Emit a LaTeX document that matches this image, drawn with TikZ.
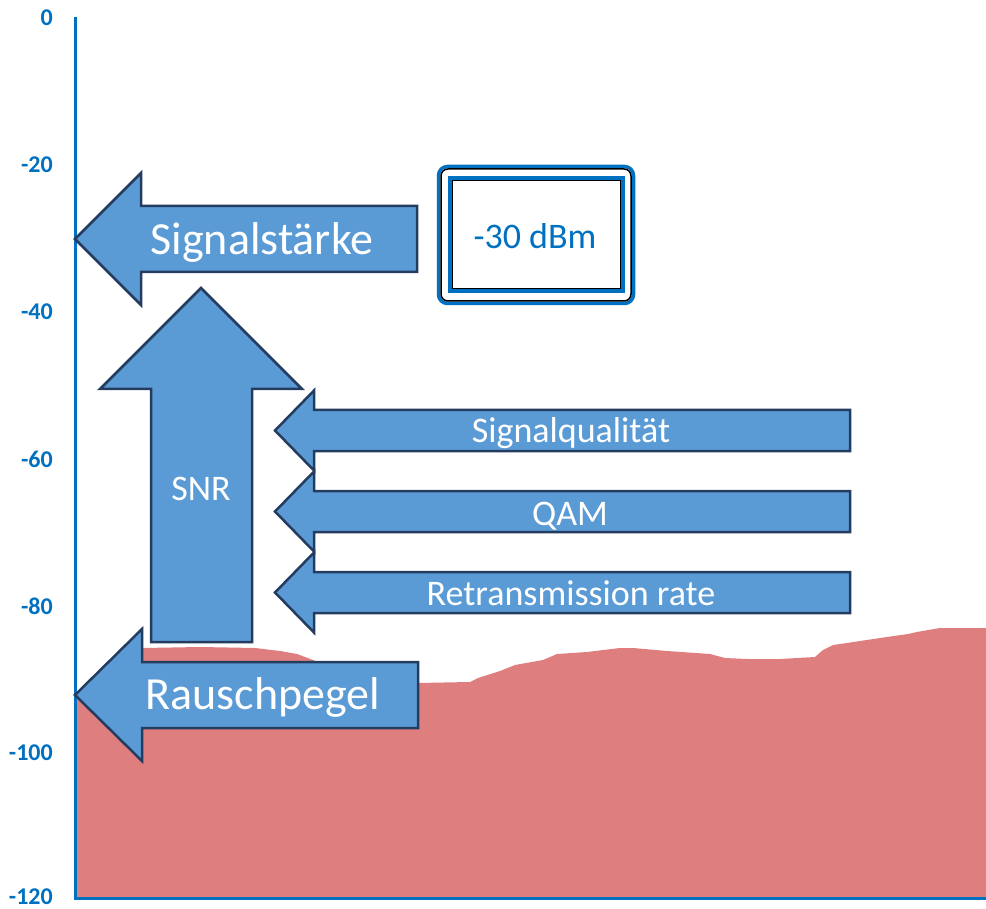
\documentclass[tikz,border=0pt]{standalone}
\usepackage{fontspec}
\setmainfont{Carlito}
\definecolor{axisblue}{RGB}{0,112,192}
\definecolor{arrfill}{RGB}{91,155,213}
\definecolor{arredge}{RGB}{36,60,96}
\definecolor{noise}{RGB}{222,126,126}
\tikzset{
 arrowshape/.style={fill=arrfill, draw=arredge, line width=2.5pt, line join=miter},
 biglbl/.style={text=white, font=\fontsize{46}{50}\selectfont, inner sep=0pt, text height=29pt, text depth=0pt},
 smalllbl/.style={text=white, font=\fontsize{36}{40}\selectfont, inner sep=0pt, text height=22.7pt, text depth=0pt},
 dbmlbl/.style={text=axisblue, font=\fontsize{36}{40}\selectfont, inner sep=0pt, text height=22.7pt, text depth=0pt},
 ticklbl/.style={text=axisblue, font=\bfseries\fontsize{24}{26}\selectfont, anchor=east, inner sep=0pt},
 axisline/.style={draw=axisblue, line width=3pt},
}
\begin{document}
\begin{tikzpicture}[x=1pt,y=-1pt]
\useasboundingbox (0,0) rectangle (986,909);
% noise floor
\fill[noise] (75,898) -- (75,700) -- (110,668) -- (130,652) -- (143,648) -- (200,647) -- (255,648)
 -- (280,651) -- (297,654) -- (313,660) -- (340,672) -- (418,683) -- (470,682) -- (478,678)
 -- (500,671) -- (515,665) -- (543,660) -- (557,654) -- (587,652) -- (620,648) -- (633,648)
 -- (667,651) -- (710,654) -- (725,658) -- (747,659) -- (780,659) -- (815,657) -- (823,650)
 -- (833,645) -- (847,643) -- (860,641) -- (887,637) -- (908,634) -- (917,632) -- (928,630)
 -- (940,628) -- (986,628) -- (986,898) -- cycle;
% axes
\coordinate (atop) at (75,17);
\coordinate (aorig) at (75,898);
\coordinate (aright) at (986,898);
\draw[axisline, line cap=butt] (atop) -- (aorig) -- (aright);
% tick labels
\foreach \v/\yy [count=\i] in {0/18,-20/165,-40/312,-60/459,-80/606,-100/753,-120/897}
  \node[ticklbl] (tick\i) at (53,\yy) {\v};
% Signalstaerke arrow
\draw[arrowshape] (75,239) -- (141,173) -- (141,206) -- (417,206) -- (417,272) -- (141,272) -- (141,305) -- cycle;
% Rauschpegel arrow
\draw[arrowshape] (75,695) -- (142,629) -- (142,662) -- (418,662) -- (418,728) -- (142,728) -- (142,761) -- cycle;
% SNR arrow
\draw[arrowshape] (201,288) -- (302,389) -- (252,389) -- (252,642) -- (151,642) -- (151,389) -- (100,389) -- cycle;
% three horizontal arrows
\foreach \c in {430.5,511.5,592.5}
  \draw[arrowshape] (275,\c) -- (314,\c-40) -- (314,\c-20.5) -- (850,\c-20.5) -- (850,\c+20.5) -- (314,\c+20.5) -- (314,\c+40) -- cycle;
% -30 dBm box
\draw[draw=axisblue, line width=3.5pt, rounded corners=9pt] (438.5,166.5) rectangle (633.5,303.5);
\draw[draw=black, line width=1.5pt, rounded corners=7pt] (441,169) rectangle (631,301);
\draw[draw=axisblue, line width=3.5pt] (450,178) rectangle (623,291);
\draw[draw=black, line width=1.5pt] (452.5,180.5) rectangle (620.5,288.5);
% labels
\node[biglbl] (sig) at (262,240) {Signalstärke};
\node[biglbl] (rausch) at (263,695) {Rauschpegel};
\node[smalllbl] (snr) at (201,489) {SNR};
\node[smalllbl] (sq) at (571,431) {Signalqualität};
\node[smalllbl] (qam) at (570,514) {QAM};
\node[smalllbl] (rr) at (571,594) {Retransmission rate};
\node[dbmlbl] (dbm) at (535,237) {-30 dBm};
\end{tikzpicture}
\end{document}
